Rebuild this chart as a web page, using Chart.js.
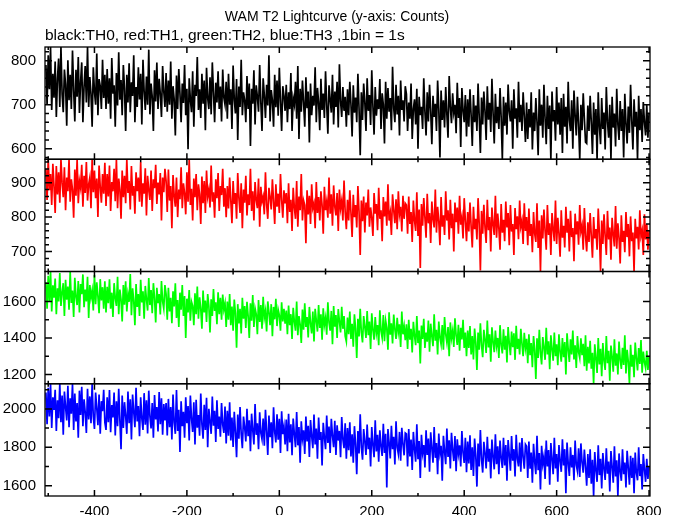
<!DOCTYPE html>
<html><head><meta charset="utf-8">
<script src="https://cdn.jsdelivr.net/npm/chart.js@4/dist/chart.umd.min.js"></script>
<style>html,body{margin:0;padding:0;background:#fff;}#c{display:block;}</style>
</head><body>
<canvas id="c" width="674" height="515"></canvas>
<script>
const chartTitle = 'WAM T2 Lightcurve (y-axis: Counts)';
const chartSubtitle = 'black:TH0, red:TH1, green:TH2, blue:TH3 ,1bin = 1s';

// time of first sample (s) and spacing between samples (s)
const binStart = -505;
const binStep = 2.5;

const th0 = [
790,700,812,735,831,688,770,716,798,672,760,805,695,831,724,683,780,746,652,801,710,768,690,823,733,662,779,718,808,681,752,796,660,741,788,705,831,695,763,724,650,785,730,700,816,676,758,742,690,802,715,768,
690,781,702,760,668,806,725,744,650,772,698,819,711,756,676,790,736,640,768,705,794,683,751,720,812,660,740,695,785,712,770,655,802,731,688,764,700,825,678,748,718,640,778,707,796,690,759,724,672,788,730,695,
772,684,755,700,798,668,742,712,630,766,690,781,725,660,748,704,790,676,736,599,760,712,683,776,650,745,720,808,688,735,670,770,702,755,642,784,715,690,762,678,796,728,660,750,705,776,690,741,662,780,716,700,
752,668,770,700,735,645,789,712,680,758,620,741,695,802,676,728,710,660,765,690,748,606,736,702,778,655,744,718,684,790,705,640,760,722,670,745,698,812,662,733,710,650,768,694,755,675,784,708,640,742,720,686,
745,660,728,690,772,640,715,700,752,668,788,622,736,684,755,705,650,762,692,730,614,748,676,720,698,785,660,738,706,642,759,688,725,670,776,700,634,744,712,682,768,655,730,695,752,648,792,708,672,740,686,718,
650,735,676,752,700,628,744,682,716,660,770,690,585,728,665,748,705,640,760,686,722,654,778,696,632,740,675,712,690,758,645,726,700,612,752,668,738,684,715,642,786,692,660,745,678,720,630,755,688,710,662,742,
724,640,705,668,748,622,690,712,655,736,600,718,676,695,645,760,684,630,728,662,745,686,610,720,672,702,640,755,690,580,732,665,710,648,740,678,625,765,695,658,726,682,700,635,750,670,715,604,738,688,660,722,
628,712,650,735,676,606,722,660,698,640,748,672,590,716,655,730,685,620,742,666,704,638,759,680,612,725,658,695,645,738,670,576,718,652,705,632,746,684,662,710,600,735,668,692,625,752,660,700,640,728,675,615,
705,622,690,648,728,598,682,640,715,660,585,735,652,700,625,745,668,610,720,645,698,576,730,662,688,618,740,655,705,632,715,590,725,650,695,612,752,665,640,710,600,732,676,630,718,655,576,700,642,726,668,615,
612,698,640,720,660,588,705,632,690,576,728,650,610,715,645,682,598,740,662,625,700,576,718,648,680,605,736,655,620,708,640,690,580,725,658,612,696,636,745,664,598,712,650,684,576,720,642,690,615,706,660,630,
700,625,682
];
const th1 = [
940,850,968,878,925,835,955,890,812,948,866,930,842,968,900,858,945,820,915,875,968,845,910,880,798,938,862,968,840,905,885,952,830,920,870,960,848,895,915,826,968,872,935,855,912,800,950,888,842,925,868,958,
832,925,860,950,818,902,875,940,846,968,826,912,880,795,935,858,920,840,968,870,905,822,948,862,890,810,930,875,915,845,960,830,898,868,942,805,920,878,850,935,818,910,884,952,838,900,866,928,790,915,872,940,
905,815,938,848,890,768,922,862,830,915,800,880,852,945,826,898,870,808,930,845,968,835,882,790,912,858,925,820,895,866,780,918,840,905,812,935,860,880,828,950,845,872,798,910,855,928,818,890,864,940,830,884,
800,890,825,915,848,782,905,838,870,795,928,856,812,898,768,880,842,920,805,866,835,940,818,875,790,902,850,826,912,772,888,845,860,808,930,836,795,885,858,822,910,845,780,895,830,868,812,925,850,798,878,840,
870,782,898,815,850,760,885,828,795,905,772,860,820,925,790,848,835,724,878,808,862,780,895,826,840,768,902,812,858,790,875,835,752,888,820,845,798,915,810,866,775,892,830,805,870,760,880,825,848,790,906,815,
765,850,790,878,812,742,865,800,835,770,890,815,690,848,788,860,755,842,805,880,772,828,798,745,870,810,838,762,885,795,820,730,858,802,845,775,895,790,812,748,866,820,782,852,765,875,808,830,758,862,795,840,
835,752,860,780,815,728,848,790,760,872,745,822,652,838,775,855,798,740,868,782,812,725,845,795,770,880,755,830,788,718,858,772,805,748,875,790,820,735,850,768,810,700,842,785,828,752,862,778,800,738,855,790,
730,815,758,842,772,712,830,765,795,735,855,780,645,818,752,836,770,725,850,762,800,700,828,778,748,862,740,810,768,705,838,755,792,730,845,770,812,718,835,758,780,690,826,765,802,736,848,772,790,722,840,760,
800,718,825,745,780,698,815,752,728,840,710,790,642,805,738,822,760,705,835,748,782,690,812,765,730,848,722,798,752,685,820,740,775,712,830,755,795,700,818,742,768,672,810,750,788,720,835,758,776,705,826,745,
700,785,728,812,745,682,800,738,765,705,825,752,642,790,722,808,745,690,818,735,770,676,798,750,715,832,708,782,740,665,805,728,760,698,815,742,780,686,802,730,755,642,795,738,772,706,820,745,762,690,808,735,
780,705,760
];
const th2 = [
1705,1560,1740,1598,1764,1545,1688,1620,1725,1530,1672,1600,1755,1575,1650,1700,1520,1718,1610,1682,1555,1764,1592,1660,1515,1730,1625,1580,1712,1540,1695,1640,1748,1568,1665,1600,1735,1510,1690,1620,1660,1550,1744,1585,1705,1628,1535,1722,1605,1678,1560,1710,
1540,1680,1590,1722,1560,1648,1515,1700,1618,1575,1735,1530,1665,1610,1490,1690,1582,1710,1545,1640,1598,1750,1525,1672,1605,1470,1695,1570,1640,1520,1718,1595,1655,1505,1685,1612,1550,1728,1580,1662,1535,1700,1620,1485,1675,1590,1640,1528,1712,1600,1560,1690,
1640,1500,1675,1545,1620,1480,1655,1572,1700,1510,1608,1460,1648,1555,1690,1520,1630,1400,1615,1540,1662,1495,1598,1575,1470,1645,1530,1682,1505,1622,1560,1450,1660,1540,1605,1488,1640,1575,1430,1612,1520,1668,1548,1595,1475,1650,1530,1620,1500,1638,1555,1590,
1460,1600,1500,1641,1470,1572,1440,1610,1535,1346,1585,1480,1560,1425,1620,1505,1575,1455,1598,1520,1400,1590,1495,1635,1460,1562,1530,1420,1608,1488,1580,1450,1625,1510,1548,1435,1600,1540,1470,1585,1410,1570,1502,1615,1465,1555,1525,1440,1595,1490,1560,1478,
1550,1420,1578,1470,1530,1395,1565,1490,1440,1600,1415,1520,1475,1372,1555,1445,1590,1460,1515,1402,1570,1480,1425,1545,1380,1560,1495,1435,1580,1455,1530,1390,1562,1470,1510,1418,1595,1485,1440,1548,1365,1575,1462,1525,1400,1558,1490,1430,1570,1450,1520,1410,
1380,1512,1420,1545,1395,1478,1352,1530,1450,1290,1505,1408,1560,1430,1375,1520,1460,1400,1548,1415,1490,1340,1535,1445,1390,1515,1425,1470,1360,1552,1438,1400,1525,1382,1495,1455,1335,1540,1418,1480,1370,1528,1448,1395,1510,1430,1475,1350,1545,1420,1465,1388,
1475,1340,1500,1390,1450,1320,1488,1412,1360,1520,1372,1440,1260,1468,1395,1505,1345,1430,1380,1495,1325,1478,1410,1355,1530,1385,1445,1310,1490,1402,1365,1470,1335,1515,1420,1375,1460,1300,1485,1398,1440,1350,1508,1415,1362,1472,1330,1455,1392,1500,1345,1430,
1300,1440,1345,1465,1310,1410,1282,1452,1375,1225,1430,1335,1480,1360,1295,1445,1390,1318,1495,1348,1420,1270,1458,1380,1322,1440,1355,1400,1290,1470,1362,1315,1448,1335,1412,1265,1460,1372,1305,1435,1350,1425,1280,1466,1340,1395,1310,1450,1368,1300,1428,1345,
1395,1262,1420,1305,1372,1240,1410,1335,1175,1398,1290,1445,1318,1255,1405,1348,1280,1455,1310,1382,1228,1415,1340,1275,1430,1300,1365,1250,1420,1325,1270,1400,1295,1378,1200,1425,1338,1268,1392,1310,1440,1282,1360,1235,1410,1322,1290,1398,1305,1368,1245,1415,
1220,1352,1260,1385,1232,1318,1149,1365,1290,1208,1400,1255,1340,1190,1372,1275,1225,1410,1262,1330,1165,1358,1298,1215,1392,1248,1315,1200,1380,1280,1230,1346,1252,1415,1205,1335,1270,1149,1362,1242,1308,1185,1375,1290,1222,1345,1258,1388,1210,1325,1268,1235,
1330,1225,1300
];
const th3 = [
2085,1920,2110,1960,2131,1900,2060,1995,2100,1885,2045,1952,2131,1930,2070,1865,2090,2010,1940,2120,1905,2055,1975,2131,1890,2080,1935,2030,1850,2095,1968,2115,1910,2050,1982,1875,2105,1945,2065,1925,2131,1960,1895,2085,2005,1915,2075,1870,2040,1988,2100,1930,
1890,2060,1930,2098,1878,2020,1955,2085,1862,2040,1910,2105,1940,1790,2070,1900,2035,1965,1870,2090,1925,2050,1840,2075,1985,1905,2110,1935,2015,1858,2060,1950,1890,2082,1918,2045,1872,2095,1960,1898,2030,1850,2072,1945,2010,1882,2088,1920,2055,1865,2025,1940,
2030,1862,2052,1905,2010,1840,2075,1930,1870,2098,1885,1995,1775,2040,1910,1985,1850,2060,1925,2015,1835,2070,1950,1880,2035,1815,2048,1902,1968,1860,2080,1920,1845,2022,1890,2058,1800,2000,1935,1870,2065,1912,1990,1828,2045,1895,1960,1855,2030,1918,1875,2012,
1820,1990,1860,2035,1835,1955,1802,1985,1880,1748,1970,1845,2010,1870,1795,1960,1905,1830,2000,1858,1940,1780,1975,1890,1815,2025,1865,1925,1790,1982,1875,1842,1950,1808,1995,1885,1760,1965,1852,1930,1795,2008,1880,1825,1972,1840,1948,1770,1988,1868,1910,1815,
1945,1780,1975,1825,1920,1758,1950,1870,1800,1984,1810,1905,1720,1935,1845,1888,1765,1960,1830,1912,1750,1942,1858,1795,1970,1815,1898,1740,1955,1838,1880,1705,1928,1852,1790,1965,1822,1908,1770,1948,1860,1800,1938,1760,1915,1835,1885,1748,1958,1842,1795,1925,
1740,1900,1785,1930,1752,1868,1720,1910,1815,1660,1885,1768,1972,1800,1735,1895,1830,1760,1918,1790,1850,1700,1905,1812,1748,1940,1778,1865,1725,1888,1805,1755,1922,1770,1870,1591,1895,1825,1742,1912,1790,1855,1710,1935,1800,1765,1880,1730,1902,1818,1758,1875,
1870,1700,1895,1752,1840,1682,1880,1790,1725,1920,1738,1832,1640,1865,1770,1812,1695,1888,1760,1845,1672,1878,1795,1720,1905,1745,1822,1660,1872,1768,1808,1625,1860,1780,1712,1898,1750,1836,1690,1875,1788,1728,1858,1675,1842,1765,1810,1700,1885,1772,1718,1850,
1670,1830,1715,1862,1682,1800,1650,1845,1758,1595,1820,1700,1890,1738,1668,1828,1770,1690,1855,1725,1792,1638,1840,1752,1685,1868,1712,1805,1660,1835,1745,1692,1850,1705,1812,1625,1838,1762,1678,1858,1730,1790,1648,1865,1740,1700,1825,1672,1848,1750,1688,1815,
1805,1640,1830,1688,1772,1615,1818,1725,1660,1860,1680,1770,1580,1808,1712,1752,1635,1835,1700,1785,1605,1822,1740,1660,1850,1690,1765,1620,1812,1730,1672,1842,1705,1790,1560,1825,1718,1650,1800,1695,1760,1628,1835,1708,1675,1795,1645,1820,1722,1668,1788,1700,
1600,1765,1640,1790,1610,1735,1546,1775,1680,1620,1810,1655,1740,1585,1770,1690,1630,1795,1662,1725,1570,1780,1700,1615,1805,1648,1732,1546,1768,1675,1625,1790,1660,1720,1590,1782,1695,1605,1755,1640,1745,1560,1772,1668,1628,1800,1650,1712,1580,1765,1685,1620,
1740,1635,1700
];

const xTickLabels = [-400, -200, 0, 200, 400, 600, 800];
const yTicksTH0 = [600, 700, 800];
const yTicksTH1 = [700, 800, 900];
const yTicksTH2 = [1200, 1400, 1600];
const yTicksTH3 = [1600, 1800, 2000];

const panelNames = ['TH0', 'TH1', 'TH2', 'TH3'];
const panelColors = ['#000000', '#ff0000', '#00ff00', '#0000ff'];
const panelSeries = [th0, th1, th2, th3];
const panelTicks = [yTicksTH0, yTicksTH1, yTicksTH2, yTicksTH3];
const panelRanges = [[576, 831], [642, 968], [1149, 1764], [1546, 2131]];
const panelMinorSteps = [20, 20, 100, 100];
const xRange = [-507, 802];
const xMinorStep = 100;
const panelIds = ['y0', 'y1', 'y2', 'y3'];

const FONT = "'Liberation Sans', Arial, Helvetica, sans-serif";
Chart.defaults.font.family = FONT;
Chart.defaults.color = '#000';

function toPoints(arr) {
  return arr.map((v, i) => ({ x: binStart + i * binStep, y: v }));
}

const framePlugin = {
  id: 'frame',
  afterDatasetsDraw(chart) {
    const ctx = chart.ctx, ca = chart.chartArea, xs = chart.scales.x;
    ctx.save();
    ctx.strokeStyle = '#000';
    ctx.lineCap = 'butt';
    panelIds.forEach((id, k) => {
      const s = chart.scales[id];
      const top = s.top, bot = s.bottom;
      ctx.lineWidth = 1.3;
      ctx.strokeRect(ca.left, top, ca.right - ca.left, bot - top);
      ctx.lineWidth = 1.5;
      ctx.beginPath();
      for (let v = Math.ceil(xRange[0] / xMinorStep) * xMinorStep; v <= xRange[1]; v += xMinorStep) {
        const len = (v % 200 === 0) ? 6 : 3;
        const px = xs.getPixelForValue(v);
        ctx.moveTo(px, top); ctx.lineTo(px, top + len);
        ctx.moveTo(px, bot); ctx.lineTo(px, bot - len);
      }
      const [mn, mx] = panelRanges[k];
      const st = panelMinorSteps[k];
      for (let v = Math.ceil(mn / st) * st; v <= mx; v += st) {
        const len = panelTicks[k].includes(v) ? 7 : 4;
        const py = s.getPixelForValue(v);
        ctx.moveTo(ca.left, py); ctx.lineTo(ca.left + len, py);
        ctx.moveTo(ca.right, py); ctx.lineTo(ca.right - len, py);
      }
      ctx.stroke();
    });
    ctx.restore();
  }
};

const scales = {
  x: {
    type: 'linear', position: 'bottom', min: xRange[0], max: xRange[1],
    grid: { display: false, drawTicks: false }, border: { display: false },
    ticks: { autoSkip: false, maxRotation: 0, minRotation: 0, padding: 7, font: { size: 15 }, color: '#000',
             callback: v => String(v) },
    afterBuildTicks: s => { s.ticks = xTickLabels.map(v => ({ value: v })); },
    afterFit: s => { s.height = 19; s.paddingRight = 24; s.paddingLeft = 0; }
  }
};
panelIds.forEach((id, k) => {
  scales[id] = {
    type: 'linear', position: 'left', stack: 'lc', stackWeight: 1, weight: 4 - k,
    min: panelRanges[k][0], max: panelRanges[k][1],
    grid: { display: false, drawTicks: false }, border: { display: false },
    ticks: { padding: 9, font: { size: 15 }, color: '#000', callback: v => String(v) },
    afterBuildTicks: s => { s.ticks = panelTicks[k].map(v => ({ value: v })); },
    afterFit: s => { s.width = 45; s.paddingTop = 0; s.paddingBottom = 0; }
  };
});

new Chart(document.getElementById('c'), {
  type: 'line',
  data: {
    datasets: panelSeries.map((arr, k) => ({
      label: panelNames[k],
      data: toPoints(arr),
      yAxisID: panelIds[k],
      borderColor: panelColors[k],
      backgroundColor: panelColors[k],
      borderWidth: 1.7,
      borderJoinStyle: 'miter',
      pointRadius: 0,
      fill: false,
      tension: 0
    }))
  },
  options: {
    responsive: false,
    animation: false,
    devicePixelRatio: 1,
    events: [],
    layout: { padding: 0 },
    scales,
    plugins: {
      legend: { display: false },
      tooltip: { enabled: false },
      title: { display: true, text: chartTitle, color: '#000', font: { size: 14, weight: 'normal' }, padding: { top: 9, bottom: 0 } },
      subtitle: { display: true, text: chartSubtitle, align: 'start', fullSize: false, color: '#000', font: { size: 15.5, weight: 'normal' }, padding: { top: 1, bottom: 1.6 } }
    }
  },
  plugins: [framePlugin]
});
</script>
</body></html>
